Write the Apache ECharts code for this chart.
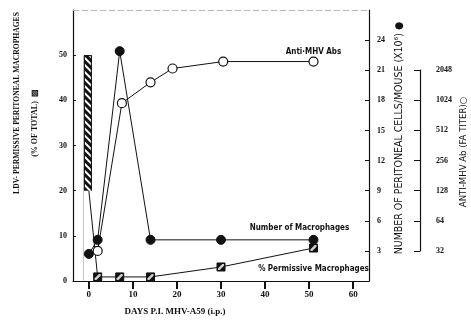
<!DOCTYPE html>
<html>
<head>
<meta charset="utf-8">
<script src="https://cdn.jsdelivr.net/npm/echarts@6/dist/echarts.min.js"></script>
<style>
  html, body { margin: 0; background: #fff; }
  #chart { width: 471px; height: 322px; }
</style>
</head>
<body>
<div id="chart"></div>
<script>
// tick labels
const dayTicks = [0, 10, 20, 30, 40, 50, 60]
const pctTicks = [0, 10, 20, 30, 40, 50]
const cellTicks = [3, 6, 9, 12, 15, 18, 21, 24]

// day-0 range of permissive macrophages (% of total)
const barDays = [0]
const barLow = [20]
const barHigh = [50]

// % permissive macrophages (hatched squares)
const permDays = [0, 2, 7, 14, 30, 51]
const permPct = [20, 0.9, 0.9, 0.9, 3.1, 7.3]

// number of macrophages, x10^6 per mouse (filled circles)
const macDays = [0, 2, 7, 14, 30, 51]
const macCells = [2.7, 4.1, 22.9, 4.1, 4.1, 4.1]

// anti-MHV antibody FA titer (open circles)
const abDays = [2, 7.5, 14, 19, 30.5, 51]
const abTiter = [32, 960, 1550, 2130, 2500, 2500]

const serif = 'Liberation Serif'
const sansC = 'DejaVu Sans Condensed'
const ink = '#111'

const chart = echarts.init(document.getElementById('chart'))

const permData = permDays.map((d, i) => ({
  value: [d, permPct[i]],
  symbol: i === 0 ? 'none' : 'rect',
}))
permData[permData.length - 1].label = {
  show: true,
  position: 'bottom',
  distance: 12,
  formatter: '% Permissive Macrophages',
}

const macData = macDays.map((d, i) => [d, macCells[i]])
macData[macData.length - 1] = {
  value: macData[macData.length - 1],
  label: {
    show: true,
    position: 'top',
    distance: 3,
    offset: [-14, 0],
    formatter: 'Number of Macrophages',
  },
}

const abData = abDays.map((d, i) => [d, abTiter[i]])
abData[abData.length - 1] = {
  value: abData[abData.length - 1],
  label: { show: true, position: 'top', distance: 1, formatter: 'Anti·MHV Abs' },
}

const seriesLabel = {
  color: ink,
  fontFamily: sansC,
  fontSize: 8,
  fontWeight: 'bold',
}

const tickFont = {
  color: ink,
  fontFamily: serif,
  fontWeight: 'bold',
  fontSize: 8,
}

chart.setOption({
  animation: false,
  backgroundColor: '#fff',
  grid: [
    { left: 73, right: 102, top: 10, bottom: 41 },
    { left: 420, width: 8, top: 70, bottom: 71 },
  ],
  xAxis: [
    {
      type: 'value',
      min: -3.6,
      max: 63.6,
      splitLine: { show: false },
      axisLine: { onZero: false, lineStyle: { color: ink, width: 1.2 } },
      axisTick: {
        customValues: dayTicks,
        length: 8,
        lineStyle: { color: ink, width: 2 },
      },
      axisLabel: { customValues: dayTicks, margin: 9, ...tickFont, fontSize: 9 },
    },
    {
      type: 'value',
      position: 'top',
      min: -3.6,
      max: 63.6,
      splitLine: { show: false },
      axisLine: { onZero: false, lineStyle: { color: '#bbb', width: 1, type: [6, 3] } },
      axisTick: { show: false },
      axisLabel: { show: false },
    },
    { gridIndex: 1, type: 'value', show: false },
  ],
  yAxis: [
    {
      type: 'value',
      min: 0,
      max: 60,
      splitLine: { show: false },
      axisLine: { show: true, onZero: false, lineStyle: { color: ink, width: 1.2 } },
      axisTick: { inside: true, length: 3, customValues: pctTicks, lineStyle: { color: ink } },
      axisLabel: { customValues: pctTicks, margin: 6, ...tickFont },
    },
    {
      type: 'value',
      position: 'right',
      min: 0,
      max: 27,
      splitLine: { show: false },
      axisLine: { show: true, onZero: false, lineStyle: { color: ink, width: 1.2 } },
      axisTick: { inside: true, length: 4, customValues: cellTicks, lineStyle: { color: ink } },
      axisLabel: { customValues: cellTicks, margin: 8, ...tickFont },
    },
    {
      gridIndex: 1,
      type: 'log',
      logBase: 2,
      position: 'right',
      min: 32,
      max: 2048,
      interval: 1,
      splitLine: { show: false },
      axisLine: { show: true, lineStyle: { color: ink, width: 1.2 } },
      axisTick: { inside: true, length: 6, lineStyle: { color: ink } },
      axisLabel: { margin: 8, ...tickFont, formatter: (v) => String(Math.round(v)) },
    },
    {
      // hidden titer scale lined up with the cell-count axis
      type: 'log',
      logBase: 2,
      min: 16,
      max: 8192,
      show: false,
    },
  ],
  series: [
    {
      type: 'bar',
      barWidth: 8,
      barGap: '-100%',
      z: 1,
      itemStyle: {
        color: ink,
        borderColor: ink,
        borderWidth: 1,
        decal: {
          symbol: 'rect',
          symbolSize: 1,
          color: '#fff',
          dashArrayX: [1, 0],
          dashArrayY: [2, 3],
          rotation: Math.PI / 4,
        },
      },
      data: barDays.map((d, i) => [d, barHigh[i]]),
    },
    {
      // blanks out the part of the bar below the low end of the range
      type: 'bar',
      barWidth: 10,
      barGap: '-100%',
      silent: true,
      z: 2,
      itemStyle: { color: '#fff' },
      data: barDays.map((d, i) => [d, barLow[i]]),
    },
    {
      type: 'line',
      name: '% Permissive Macrophages',
      symbolSize: 8,
      lineStyle: { color: ink, width: 1 },
      itemStyle: { color: ink, borderColor: ink },
      label: seriesLabel,
      data: permData,
      z: 3,
    },
    {
      type: 'scatter',
      symbol: 'path://M0,10 L3,10 L10,3 L10,0 L7,0 L0,7 Z',
      symbolSize: 6,
      itemStyle: { color: '#fff' },
      data: permDays.slice(1).map((d, i) => [d, permPct[i + 1]]),
      z: 4,
    },
    {
      type: 'line',
      name: 'Number of Macrophages',
      yAxisIndex: 1,
      symbol: 'circle',
      symbolSize: 9,
      lineStyle: { color: ink, width: 1 },
      itemStyle: { color: ink, borderColor: ink },
      label: seriesLabel,
      data: macData,
      z: 5,
    },
    {
      type: 'line',
      name: 'Anti-MHV Abs',
      yAxisIndex: 3,
      symbol: 'circle',
      symbolSize: 9,
      lineStyle: { color: ink, width: 1 },
      itemStyle: { color: '#fff', borderColor: ink, borderWidth: 1.2 },
      label: seriesLabel,
      data: abData,
      z: 6,
    },
  ],
  graphic: [
    {
      type: 'text',
      x: 17,
      y: 103,
      rotation: Math.PI / 2,
      style: {
        text: 'LDV- PERMISSIVE PERITONEAL MACROPHAGES',
        fill: ink,
        font: 'bold 7.6px "Liberation Serif"',
        align: 'center',
        verticalAlign: 'middle',
      },
    },
    {
      type: 'text',
      x: 35,
      y: 123,
      rotation: Math.PI / 2,
      style: {
        text: '(% OF TOTAL)  ▨',
        fill: ink,
        font: 'bold 8px "Liberation Serif"',
        align: 'center',
        verticalAlign: 'middle',
      },
    },
    {
      type: 'text',
      x: 399,
      y: 138,
      rotation: Math.PI / 2,
      style: {
        text: 'NUMBER OF PERITONEAL CELLS/MOUSE (X10⁶) ●',
        fill: ink,
        font: '10.5px "DejaVu Sans Condensed"',
        align: 'center',
        verticalAlign: 'middle',
      },
    },
    {
      type: 'text',
      x: 464,
      y: 152,
      rotation: Math.PI / 2,
      style: {
        text: 'ANTI-MHV Ab (FA TITER)○',
        fill: ink,
        font: '9.5px "DejaVu Sans Condensed"',
        align: 'center',
        verticalAlign: 'middle',
      },
    },
    {
      type: 'text',
      x: 175,
      y: 312,
      style: {
        text: 'DAYS P.I. MHV-A59 (i.p.)',
        fill: ink,
        font: 'bold 9px "Liberation Serif"',
        align: 'center',
        verticalAlign: 'middle',
      },
    },
  ],
})
</script>
</body>
</html>
